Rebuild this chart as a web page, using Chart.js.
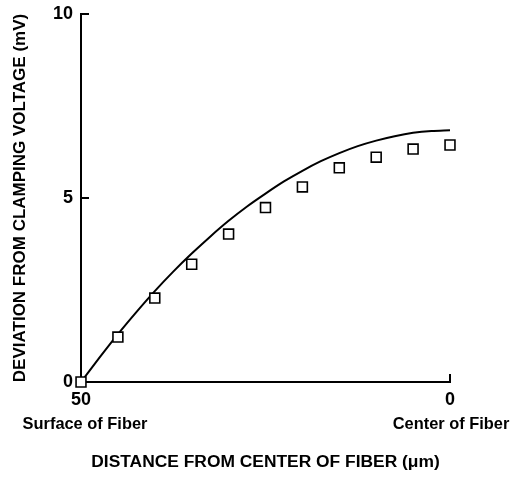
<!DOCTYPE html>
<html>
<head>
<meta charset="utf-8">
<script src="https://cdn.jsdelivr.net/npm/chart.js@4.4.1/dist/chart.umd.min.js"></script>
<style>
  html, body { margin: 0; padding: 0; background: #fff; }
  #wrap { width: 519px; height: 477px; }
</style>
</head>
<body>
<div id="wrap"><canvas id="c" width="519" height="477"></canvas></div>
<script>
// Measured potential deviation (squares), distance from fiber center in µm
const measuredX = [50, 45, 40, 35, 30, 25, 20, 15, 10, 5, 0];
const measuredY = [0, 1.22, 2.28, 3.2, 4.02, 4.74, 5.3, 5.82, 6.11, 6.33, 6.44];

// Computed profile (solid curve)
const curveX = [50, 47.5, 45, 42.5, 40, 37.5, 35, 32.5, 30, 27.5, 25, 22.5, 20, 17.5, 15, 12.5, 10, 7.5, 5, 2.5, 0];
const curveY = [0, 0.66, 1.3, 1.9, 2.47, 3.0, 3.49, 3.95, 4.38, 4.77, 5.12, 5.45, 5.74, 6.0, 6.22, 6.41, 6.56, 6.68, 6.77, 6.82, 6.84];

// Axis ticks and labels
const xTicks = [50, 0];
const yTicks = [0, 5, 10];
const xEndLabels = ['Surface of Fiber', 'Center of Fiber'];
const xTitle = 'DISTANCE FROM CENTER OF FIBER (\u03bcm)';
const yTitle = 'DEVIATION FROM CLAMPING VOLTAGE (mV)';

const FONT = '"Liberation Sans", Arial, Helvetica, sans-serif';

// Short tick marks pointing into the plot area, plus the end captions under the x ticks
const innerTicks = {
  id: 'innerTicks',
  afterDraw(chart) {
    const {ctx, scales: {x, y}} = chart;
    ctx.save();
    ctx.strokeStyle = '#000';
    ctx.lineWidth = 2;
    ctx.beginPath();
    yTicks.forEach(v => {
      if (v === 0) return;
      const py = y.getPixelForValue(v);
      ctx.moveTo(x.left, py);
      ctx.lineTo(x.left + 8, py);
    });
    xTicks.forEach(v => {
      if (v === 50) return;
      const px = x.getPixelForValue(v);
      ctx.moveTo(px, y.bottom);
      ctx.lineTo(px, y.bottom - 8);
    });
    ctx.stroke();

    ctx.fillStyle = '#000';
    ctx.font = 'bold 16.4px ' + FONT;
    ctx.textAlign = 'center';
    ctx.textBaseline = 'middle';
    xTicks.forEach((v, i) => {
      ctx.fillText(xEndLabels[i], x.getPixelForValue(v) + (i === 0 ? 4 : 1), y.bottom + 42);
    });
    ctx.restore();
  }
};

new Chart(document.getElementById('c'), {
  type: 'scatter',
  data: {
    datasets: [
      {
        label: 'measured',
        data: measuredX.map((v, i) => ({x: v, y: measuredY[i]})),
        pointStyle: 'rect',
        pointRadius: 7,
        pointBackgroundColor: '#fff',
        pointBorderColor: '#000',
        pointBorderWidth: 1.6,
        showLine: false,
        clip: false,
        order: 0
      },
      {
        label: 'computed',
        data: curveX.map((v, i) => ({x: v, y: curveY[i]})),
        showLine: true,
        borderColor: '#000',
        borderWidth: 2,
        pointRadius: 0,
        tension: 0.4,
        cubicInterpolationMode: 'monotone',
        clip: false,
        order: 1
      }
    ]
  },
  options: {
    responsive: false,
    animation: false,
    devicePixelRatio: 1,
    layout: { padding: { top: 14, right: 69, left: 0, bottom: 0 } },
    plugins: { legend: { display: false }, tooltip: { enabled: false } },
    scales: {
      x: {
        type: 'linear',
        reverse: true,
        min: 0,
        max: 50,
        afterBuildTicks: s => { s.ticks = xTicks.map(v => ({value: v})); },
        afterFit: s => { s.height = 95; s.paddingLeft = 0; s.paddingRight = 0; },
        grid: { display: false, drawTicks: false },
        border: { display: true, color: '#000', width: 2 },
        ticks: {
          color: '#000',
          padding: 7,
          font: { family: FONT, size: 18, weight: 'bold' },
          maxRotation: 0
        },
        title: {
          display: true,
          text: xTitle,
          color: '#000',
          font: { family: FONT, size: 17.4, weight: 'bold' },
          padding: { top: 0, bottom: 4 }
        }
      },
      y: {
        type: 'linear',
        min: 0,
        max: 10,
        afterBuildTicks: s => { s.ticks = yTicks.map(v => ({value: v})); },
        afterFit: s => { s.width = 81; s.paddingTop = 0; s.paddingBottom = 0; },
        grid: { display: false, drawTicks: false },
        border: { display: true, color: '#000', width: 2 },
        ticks: {
          color: '#000',
          padding: 8,
          font: { family: FONT, size: 18, weight: 'bold' }
        },
        title: {
          display: true,
          text: yTitle,
          color: '#000',
          font: { family: FONT, size: 17, weight: 'bold' },
          padding: { top: 10, bottom: 0 }
        }
      }
    }
  },
  plugins: [innerTicks]
});
</script>
</body>
</html>
